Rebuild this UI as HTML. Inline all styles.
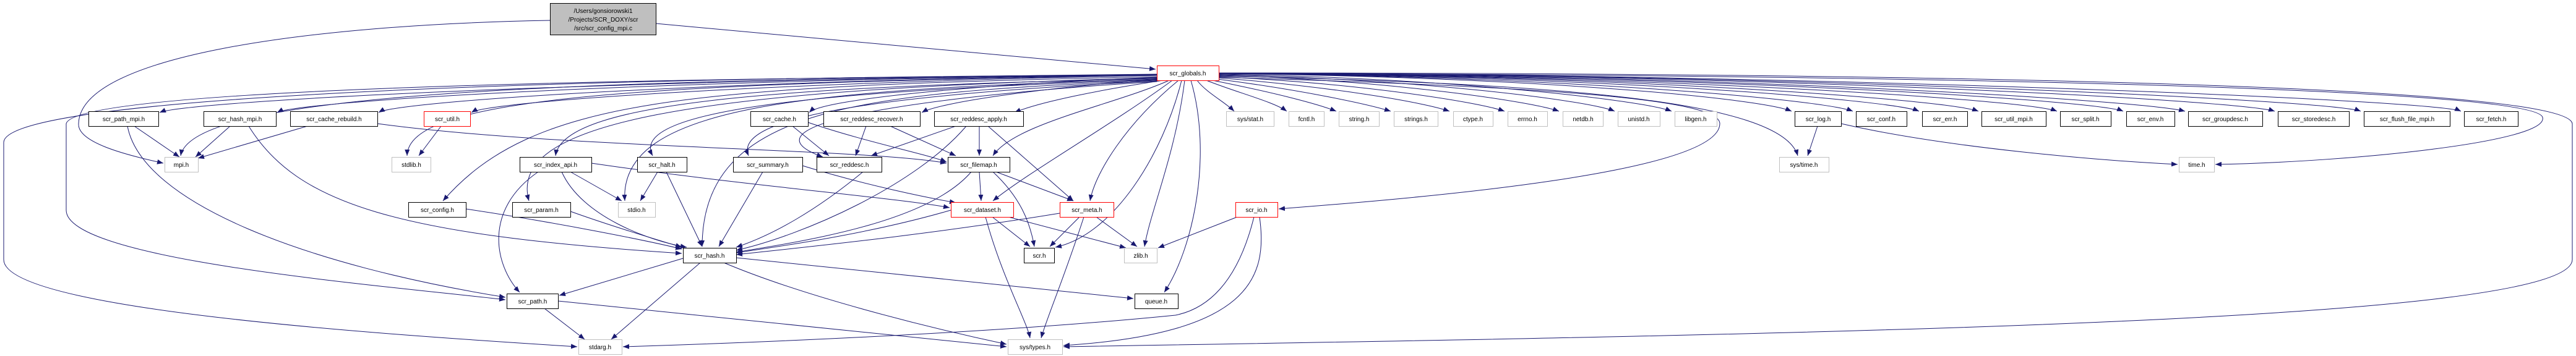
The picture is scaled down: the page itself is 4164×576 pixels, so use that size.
<!DOCTYPE html>
<html><head><meta charset="utf-8"><style>
html,body{margin:0;padding:0;background:#fff;}
svg{display:block;}
text{font-family:"Liberation Sans",sans-serif;font-size:10px;fill:#000;text-anchor:middle;}
</style></head><body>
<svg width="4164" height="576" viewBox="0 0 4164 576" xmlns="http://www.w3.org/2000/svg">
<defs><marker id="a" markerUnits="userSpaceOnUse" markerWidth="10" markerHeight="8" refX="10" refY="4" orient="auto"><path d="M0,0L10,4L0,8z" fill="#191970"/></marker></defs>
<g fill="none" stroke="#191970" stroke-width="1" marker-end="url(#a)">
<path d="M1060,38 C1400,70 1700,95 1868,112"/>
<path d="M889,33 C500,40 130,90 127,200 C125,230 200,250 264,264"/>
<path d="M1870,121 C900,130 300,165 258,182"/>
<path d="M1870,121 C1000,130 480,165 448,182"/>
<path d="M1870,121 C1100,132 640,165 612,182"/>
<path d="M1870,122 C1200,135 790,165 762,182"/>
<path d="M1875,125 C1600,135 1330,160 1308,182"/>
<path d="M1880,128 C1700,140 1520,165 1490,182"/>
<path d="M1880,130 C1780,145 1680,165 1640,182"/>
<path d="M1935,130 C1950,150 1980,165 1995,180"/>
<path d="M1950,130 C2000,150 2060,165 2080,180"/>
<path d="M1960,130 C2060,150 2130,168 2160,180"/>
<path d="M1968,128 C2100,145 2210,168 2248,180"/>
<path d="M1970,126 C2150,140 2300,165 2343,180"/>
<path d="M1970,124 C2200,135 2390,165 2432,180"/>
<path d="M1970,122 C2250,130 2480,165 2520,180"/>
<path d="M1970,121 C2300,128 2570,163 2610,180"/>
<path d="M1970,120 C2350,126 2660,163 2702,180"/>
<path d="M1970,119 C2500,125 2850,160 2896,180"/>
<path d="M1970,119 C2550,124 2950,162 2995,180"/>
<path d="M1970,119 C2600,123 3060,162 3102,180"/>
<path d="M1970,119 C2650,122 3150,162 3198,180"/>
<path d="M1970,119 C2700,122 3280,162 3325,180"/>
<path d="M1970,119 C2750,121 3390,162 3432,180"/>
<path d="M1970,118 C2800,121 3460,162 3532,180"/>
<path d="M1970,118 C2850,120 3620,162 3677,180"/>
<path d="M1970,118 C2900,120 3770,162 3816,180"/>
<path d="M1970,118 C2950,120 3940,162 3978,180"/>
<path d="M1970,119 C3000,120 4100,140 4110,190 C4120,230 3800,262 3581,266"/>
<path d="M1970,118 C3200,118 4150,140 4158,200 L4158,420 C4158,520 3000,540 1719,561"/>
<path d="M1970,125 C2500,140 2780,160 2780,200 C2780,280 2300,320 2067,338"/>
<path d="M1970,123 C2500,135 2880,160 2906,252"/>
<path d="M1870,120 C900,130 310,150 292,252"/>
<path d="M1870,122 C1000,135 660,160 658,252"/>
<path d="M1870,124 C1100,140 860,160 716,325"/>
<path d="M1870,126 C1100,145 820,200 855,325"/>
<path d="M1870,127 C1300,140 910,160 898,252"/>
<path d="M1870,128 C1300,145 1000,170 1010,325"/>
<path d="M1870,129 C1400,145 1010,170 1055,252"/>
<path d="M1870,130 C1400,150 1135,170 1135,399"/>
<path d="M1870,131 C1500,150 1180,180 1210,252"/>
<path d="M1870,132 C1500,155 1180,200 1330,254"/>
<path d="M1890,130 C1800,170 1640,200 1605,252"/>
<path d="M1895,130 C1800,200 1660,280 1605,325"/>
<path d="M1905,130 C1820,200 1770,280 1762,325"/>
<path d="M1910,130 C1880,250 1800,380 1706,400"/>
<path d="M1915,130 C1900,250 1860,340 1850,399"/>
<path d="M1925,130 C1960,250 1930,400 1882,473"/>
<path d="M1870,121 C800,128 120,150 107,200 L107,340 C107,420 600,460 817,485"/>
<path d="M1870,121 C800,126 10,160 6,230 L6,420 C6,500 600,540 933,561"/>
<path d="M217,204 L290,254"/>
<path d="M206,204 C230,330 500,430 817,481"/>
<path d="M372,204 L316,254"/>
<path d="M402,204 C480,330 640,380 1102,410"/>
<path d="M497,204 L320,256"/>
<path d="M610,200 C900,240 1400,240 1530,264"/>
<path d="M713,204 L677,252"/>
<path d="M1281,204 L1340,252"/>
<path d="M1306,198 C1400,230 1500,250 1530,262"/>
<path d="M1400,204 L1383,252"/>
<path d="M1439,204 L1545,252"/>
<path d="M1545,204 L1408,252"/>
<path d="M1583,204 L1583,252"/>
<path d="M1597,204 L1735,325"/>
<path d="M1562,204 C1480,300 1300,380 1190,405"/>
<path d="M922,278 L1005,325"/>
<path d="M908,278 C940,350 1050,390 1110,400"/>
<path d="M870,278 C780,340 800,430 840,473"/>
<path d="M956,264 C1200,300 1450,320 1535,336"/>
<path d="M1063,278 L1035,325"/>
<path d="M1077,278 L1135,399"/>
<path d="M1233,278 L1162,399"/>
<path d="M1297,268 C1400,300 1500,320 1545,328"/>
<path d="M1395,278 C1320,340 1250,380 1190,400"/>
<path d="M1583,278 L1586,325"/>
<path d="M1610,278 L1735,325"/>
<path d="M1605,278 C1650,320 1665,360 1672,399"/>
<path d="M1570,278 C1500,360 1300,390 1190,408"/>
<path d="M753,338 C900,360 1050,390 1102,403"/>
<path d="M922,342 C1000,370 1070,390 1102,400"/>
<path d="M1604,351 L1665,399"/>
<path d="M1630,351 L1820,401"/>
<path d="M1593,351 C1620,450 1660,520 1665,547"/>
<path d="M1537,340 C1400,380 1250,400 1190,409"/>
<path d="M1745,351 L1697,399"/>
<path d="M1772,351 L1838,399"/>
<path d="M1752,351 C1720,450 1690,520 1683,547"/>
<path d="M1713,345 C1500,380 1300,400 1190,412"/>
<path d="M2000,351 L1872,401"/>
<path d="M2036,351 C2050,450 2020,540 1719,559"/>
<path d="M2027,351 C2000,460 1950,500 1900,510 C1600,540 1200,555 1007,561"/>
<path d="M1104,418 L904,478"/>
<path d="M1132,425 L988,549"/>
<path d="M1190,417 L1832,483"/>
<path d="M1170,425 C1300,480 1500,530 1627,557"/>
<path d="M880,499 L945,549"/>
<path d="M902,487 L1627,561"/>
<path d="M2938,204 L2922,252"/>
<path d="M2976,200 C3150,240 3400,260 3520,266"/>
</g>
<g stroke-width="1">
<rect x="889.5" y="5.5" width="171" height="51" fill="#bfbfbf" stroke="#000"/>
<text x="975" y="21">/Users/gonsiorowski1</text>
<text x="975" y="35">/Projects/SCR_DOXY/scr</text>
<text x="975" y="49">/src/scr_config_mpi.c</text>
</g>
<g fill="#fff" stroke="#000">
<rect x="143.5" y="180.5" width="113" height="24"/><rect x="329.5" y="180.5" width="117" height="24"/>
<rect x="469.5" y="180.5" width="141" height="24"/><rect x="1213.5" y="180.5" width="93" height="24"/>
<rect x="1331.5" y="180.5" width="156" height="24"/><rect x="1510.5" y="180.5" width="144" height="24"/>
<rect x="2901.5" y="180.5" width="75" height="24"/><rect x="3000.5" y="180.5" width="82" height="24"/>
<rect x="3107.5" y="180.5" width="73" height="24"/><rect x="3203.5" y="180.5" width="104" height="24"/>
<rect x="3330.5" y="180.5" width="82" height="24"/><rect x="3437.5" y="180.5" width="78" height="24"/>
<rect x="3537.5" y="180.5" width="120" height="24"/><rect x="3682.5" y="180.5" width="115" height="24"/>
<rect x="3821.5" y="180.5" width="139" height="24"/><rect x="3983.5" y="180.5" width="87" height="24"/>
<rect x="840.5" y="254.5" width="116" height="24"/><rect x="1030.5" y="254.5" width="80" height="24"/>
<rect x="1185.5" y="254.5" width="112" height="24"/><rect x="1320.5" y="254.5" width="105" height="24"/>
<rect x="1532.5" y="254.5" width="100" height="24"/>
<rect x="660.5" y="327.5" width="93" height="24"/><rect x="828.5" y="327.5" width="94" height="24"/>
<rect x="1104.5" y="401.5" width="86" height="24"/><rect x="1655.5" y="401.5" width="49" height="24"/>
<rect x="819.5" y="475.5" width="83" height="24"/><rect x="1834.5" y="475.5" width="70" height="24"/>
</g>
<g fill="#fff" stroke="#ff0000">
<rect x="685.5" y="180.5" width="75" height="24"/><rect x="1870.5" y="106.5" width="100" height="24"/>
<rect x="1537.5" y="327.5" width="101" height="24"/><rect x="1713.5" y="327.5" width="87" height="24"/>
<rect x="1997.5" y="327.5" width="68" height="24"/>
</g>
<g fill="#fff" stroke="#bfbfbf">
<rect x="1982.5" y="180.5" width="77" height="24"/><rect x="2083.5" y="180.5" width="57" height="24"/>
<rect x="2164.5" y="180.5" width="65" height="24"/><rect x="2253.5" y="180.5" width="71" height="24"/>
<rect x="2349.5" y="180.5" width="64" height="24"/><rect x="2437.5" y="180.5" width="64" height="24"/>
<rect x="2526.5" y="180.5" width="65" height="24"/><rect x="2615.5" y="180.5" width="68" height="24"/>
<rect x="2707.5" y="180.5" width="68" height="24"/>
<rect x="266.5" y="254.5" width="54" height="24"/><rect x="633.5" y="254.5" width="63" height="24"/>
<rect x="2876.5" y="254.5" width="80" height="24"/><rect x="3522.5" y="254.5" width="57" height="24"/>
<rect x="999.5" y="327.5" width="60" height="24"/><rect x="1817.5" y="401.5" width="53" height="24"/>
<rect x="935.5" y="549.5" width="70" height="24"/><rect x="1629.5" y="549.5" width="88" height="24"/>
</g>
<g>
<text x="1920" y="122">scr_globals.h</text>
<text x="200" y="196">scr_path_mpi.h</text><text x="388" y="196">scr_hash_mpi.h</text>
<text x="540" y="196">scr_cache_rebuild.h</text><text x="723" y="196">scr_util.h</text>
<text x="1260" y="196">scr_cache.h</text><text x="1409" y="196">scr_reddesc_recover.h</text>
<text x="1582" y="196">scr_reddesc_apply.h</text>
<text x="2021" y="196">sys/stat.h</text><text x="2112" y="196">fcntl.h</text><text x="2197" y="196">string.h</text>
<text x="2289" y="196">strings.h</text><text x="2381" y="196">ctype.h</text><text x="2469" y="196">errno.h</text>
<text x="2559" y="196">netdb.h</text><text x="2649" y="196">unistd.h</text><text x="2741" y="196">libgen.h</text>
<text x="2939" y="196">scr_log.h</text><text x="3041" y="196">scr_conf.h</text><text x="3144" y="196">scr_err.h</text>
<text x="3255" y="196">scr_util_mpi.h</text><text x="3371" y="196">scr_split.h</text><text x="3476" y="196">scr_env.h</text>
<text x="3597" y="196">scr_groupdesc.h</text><text x="3740" y="196">scr_storedesc.h</text>
<text x="3891" y="196">scr_flush_file_mpi.h</text><text x="4027" y="196">scr_fetch.h</text>
<text x="293" y="270">mpi.h</text><text x="665" y="270">stdlib.h</text><text x="898" y="270">scr_index_api.h</text>
<text x="1070" y="270">scr_halt.h</text><text x="1241" y="270">scr_summary.h</text><text x="1373" y="270">scr_reddesc.h</text>
<text x="1582" y="270">scr_filemap.h</text><text x="2916" y="270">sys/time.h</text><text x="3551" y="270">time.h</text>
<text x="707" y="343">scr_config.h</text><text x="875" y="343">scr_param.h</text><text x="1029" y="343">stdio.h</text>
<text x="1588" y="343">scr_dataset.h</text><text x="1757" y="343">scr_meta.h</text><text x="2031" y="343">scr_io.h</text>
<text x="1147" y="417">scr_hash.h</text><text x="1680" y="417">scr.h</text><text x="1844" y="417">zlib.h</text>
<text x="861" y="491">scr_path.h</text><text x="1869" y="491">queue.h</text>
<text x="970" y="565">stdarg.h</text><text x="1673" y="565">sys/types.h</text>
</g>
</svg>
</body></html>
